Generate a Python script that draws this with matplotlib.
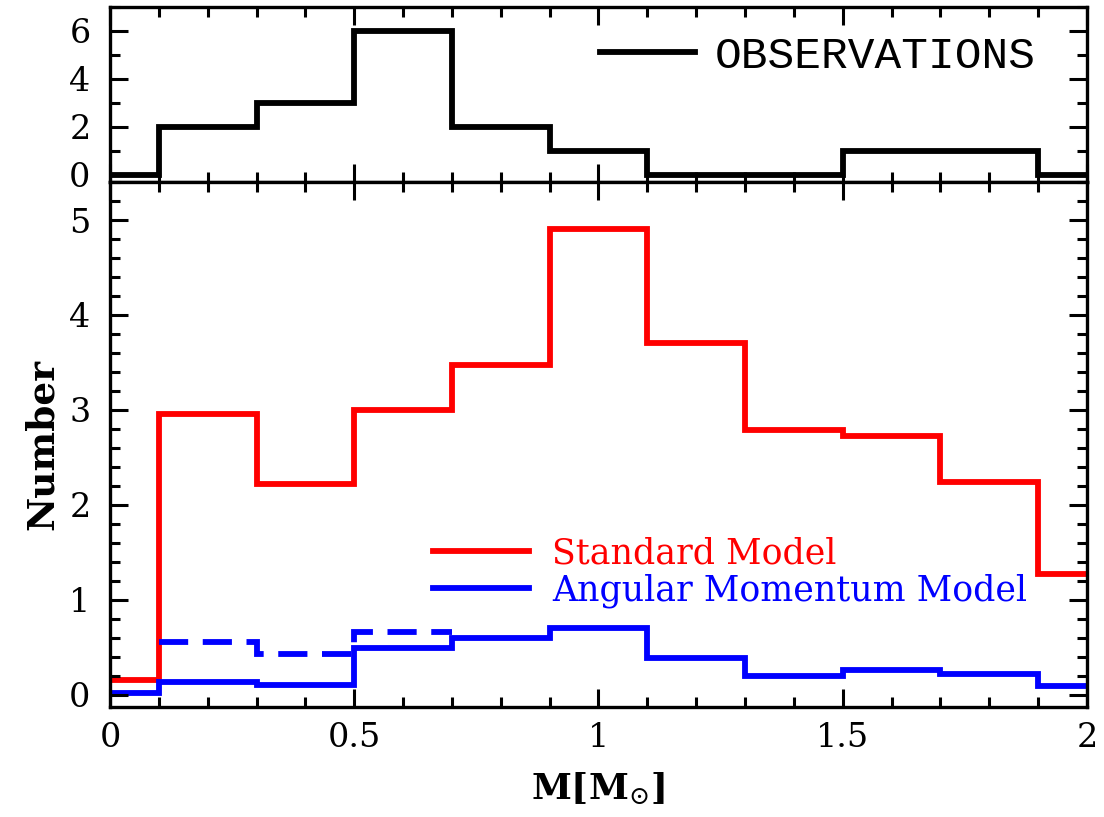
import matplotlib
matplotlib.use("Agg")
import matplotlib.pyplot as plt
from matplotlib.ticker import MultipleLocator, FormatStrFormatter

plt.rcParams['font.family'] = 'DejaVu Serif'
plt.rcParams['mathtext.fontset'] = 'dejavuserif'

# bin edges (bins of width 0.2 centred on 0, 0.2, ..., 2.0)
edges = [-0.1, 0.1, 0.3, 0.5, 0.7, 0.9, 1.1, 1.3, 1.5, 1.7, 1.9, 2.1]

observations = [0, 2, 3, 6, 2, 1, 0, 0, 1, 1, 0]
standard_model = [0.15, 2.96, 2.22, 3.0, 3.47, 4.9, 3.7, 2.79, 2.73, 2.24, 1.27]
angular_model = [0.02, 0.13, 0.105, 0.49, 0.6, 0.70, 0.39, 0.20, 0.255, 0.22, 0.09]

# dashed variant, only the low-mass bins
dashed_edges = [0.1, 0.3, 0.5, 0.7]
angular_dashed = [0.555, 0.43, 0.66]


def style_axis(ax, ymajor, yminor):
    ax.xaxis.set_major_locator(MultipleLocator(0.5))
    ax.xaxis.set_minor_locator(MultipleLocator(0.1))
    ax.yaxis.set_major_locator(MultipleLocator(ymajor))
    ax.yaxis.set_minor_locator(MultipleLocator(yminor))
    ax.tick_params(which="both", direction="in", top=True, right=True, width=2.2)
    ax.tick_params(which="major", length=13, labelsize=24)
    ax.tick_params(which="minor", length=7)
    ax.tick_params(axis="y", pad=14)
    ax.tick_params(axis="x", pad=11)
    for s in ax.spines.values():
        s.set_linewidth(2.4)


fig, (ax1, ax2) = plt.subplots(
    2, 1, sharex=True, figsize=(11.04, 8.17), dpi=100,
    gridspec_kw={"height_ratios": [175, 525]},
)
fig.subplots_adjust(left=0.0996, right=0.9846, top=0.9914, bottom=0.1346, hspace=0)

# top panel: observations
ax1.stairs(observations, edges, baseline=None, color="black", lw=4.2, label="OBSERVATIONS")
ax1.set_ylim(-0.3, 7)
style_axis(ax1, 2, 1)
ax1.tick_params(labelbottom=False)
ax1.legend(loc="center left", bbox_to_anchor=(0.5015, 0.72), frameon=False,
           prop={"family": "Liberation Mono", "size": 32},
           handlelength=2.14, handletextpad=0.45, borderpad=0, borderaxespad=0)

# bottom panel: models
ax2.stairs(standard_model, edges, baseline=None, color="red", lw=4.2, label="Standard Model")
ax2.stairs(angular_model, edges, baseline=None, color="blue", lw=4.2,
           label="Angular Momentum Model")
ax2.stairs(angular_dashed, dashed_edges, baseline=None, color="blue", lw=4.2,
           ls=(0, (5, 2.5)))
ax2.set_xlim(0, 2)
ax2.set_ylim(-0.13, 5.4)
style_axis(ax2, 1, 0.2)
ax2.xaxis.set_major_formatter(FormatStrFormatter("%g"))
ax2.legend(loc="center left", bbox_to_anchor=(0.3306, 0.257), frameon=False, fontsize=25,
           handlelength=2.77, handletextpad=0.66, labelspacing=0.1,
           borderpad=0, borderaxespad=0, labelcolor="linecolor")

ax2.set_ylabel("Number", fontsize=27, fontweight="bold", labelpad=6)
ax2.set_xlabel(r"$\mathbf{M[M}_{\odot}\mathbf{]}$", fontsize=26, labelpad=12)

fig.savefig("out.png", dpi=100)
